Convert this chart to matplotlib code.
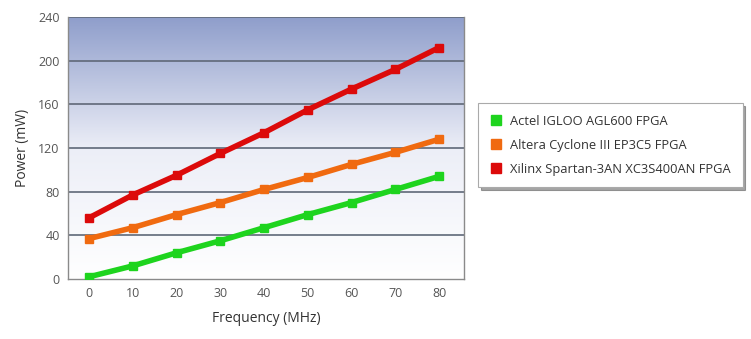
import matplotlib
matplotlib.use("Agg")
import matplotlib.pyplot as plt
import numpy as np
from matplotlib.colors import LinearSegmentedColormap
from matplotlib.lines import Line2D

plt.rcParams['font.family'] = ['Open Sans', 'DejaVu Sans']

freq = [0, 10, 20, 30, 40, 50, 60, 70, 80]
actel = [2, 12, 24, 35, 47, 59, 70, 82, 94]
altera = [37, 47, 59, 70, 82, 93, 105, 116, 128]
xilinx = [56, 77, 95, 115, 134, 155, 174, 192, 212]
labels = ["Actel IGLOO AGL600 FPGA", "Altera Cyclone III EP3C5 FPGA",
          "Xilinx Spartan-3AN XC3S400AN FPGA"]
colors = ["#1ed41e", "#f06a10", "#dc0a0a"]
yticks = [0, 40, 80, 120, 160, 200, 240]

fig = plt.figure(figsize=(7.51, 3.39), dpi=100)
ax = fig.add_axes([68/751, 60/339, (464-68)/751, (279-17)/339])

cmap = LinearSegmentedColormap.from_list("bg", ["#ffffff", "#eceef7", "#8f9ecb"])
grad = np.linspace(0, 1, 256).reshape(-1, 1)
ax.imshow(grad, extent=[0, 1, 0, 1], transform=ax.transAxes, origin="lower",
          aspect="auto", cmap=cmap, zorder=0)

for y in yticks[1:]:
    ax.axhline(y, color="#5f6878", lw=1.2, zorder=1)

for vals, c, lab in zip([actel, altera, xilinx], colors, labels):
    ax.plot(freq, vals, color=c, lw=4, marker="s", ms=6, label=lab, zorder=3)

ax.set_xlim(-4.8, 85.7)
ax.set_ylim(0, 240)
ax.set_xticks(freq)
ax.set_yticks(yticks)
ax.tick_params(length=0, labelsize=9, colors="#555555", pad=6)
ax.spines["top"].set_visible(False)
for s in ["left", "bottom", "right"]:
    ax.spines[s].set_color("#8a8a8a")
    ax.spines[s].set_linewidth(1)
ax.set_xlabel("Frequency (MHz)", fontsize=10, color="#333333", labelpad=8)
ax.set_ylabel("Power (mW)", fontsize=10, color="#333333", labelpad=6)

handles = [Line2D([], [], ls="none", marker="s", ms=7, color=c) for c in colors]
leg = fig.legend(handles, labels, loc="upper left",
                 bbox_to_anchor=(478/751, 1 - 103/339), borderaxespad=0,
                 fontsize=9.3, frameon=True, fancybox=False, shadow=True,
                 handletextpad=0.6, labelspacing=0.85, borderpad=0.9,
                 handlelength=1.0, labelcolor="#333333")
leg.get_frame().set_edgecolor("#aaaaaa")
leg.get_frame().set_linewidth(0.8)

fig.savefig("out.png", dpi=100)
